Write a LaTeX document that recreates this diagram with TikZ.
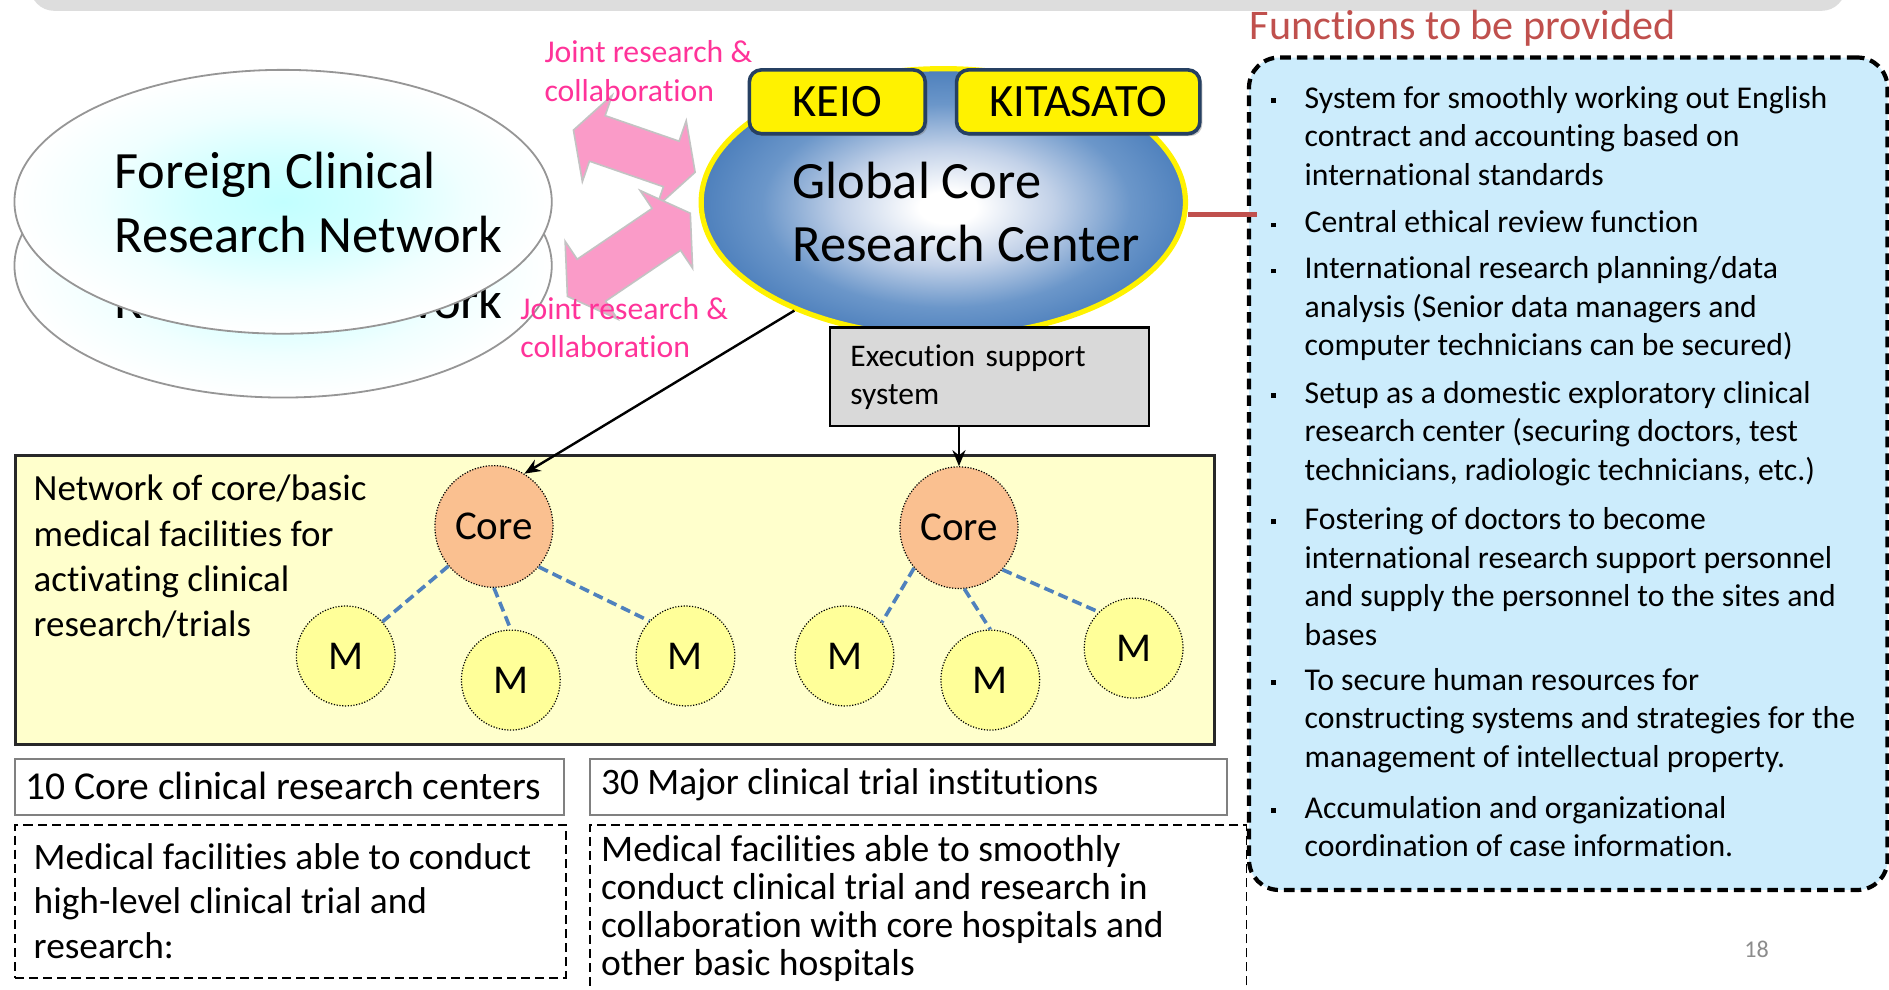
\documentclass[tikz,border=0pt]{standalone}
\usepackage{fontspec}
\setmainfont{Carlito}[Ligatures=NoCommon]
\usetikzlibrary{shapes.geometric,arrows.meta,shadows}
\definecolor{gcblue}{RGB}{79,129,189}
\definecolor{pinkfill}{RGB}{250,155,200}
\definecolor{pinkedge}{RGB}{195,195,195}
\definecolor{pinktext}{RGB}{255,51,153}
\definecolor{redline}{RGB}{192,80,77}
\definecolor{funcblue}{RGB}{204,236,252}
\definecolor{yellowbox}{RGB}{255,255,204}
\definecolor{corefill}{RGB}{250,192,144}
\definecolor{mfill}{RGB}{255,255,153}
\definecolor{dashblue}{RGB}{79,129,189}
\definecolor{navy}{RGB}{38,64,98}
\definecolor{execgray}{RGB}{217,217,217}
\definecolor{bargray}{RGB}{221,221,221}
\definecolor{fgray}{RGB}{150,150,150}
\definecolor{boxedge}{RGB}{40,40,40}
\definecolor{boxgray}{RGB}{128,128,128}
\definecolor{pagegray}{RGB}{140,140,140}
\pgfdeclareradialshading{gcshade}{\pgfpoint{0.5bp}{-1bp}}{rgb(0bp)=(1,1,1); rgb(3bp)=(1,1,1); rgb(11bp)=(0.76,0.82,0.91); rgb(19bp)=(0.42,0.59,0.79); rgb(25bp)=(0.31,0.506,0.741); rgb(50bp)=(0.31,0.506,0.741)}
\pgfdeclareradialshading{fcshade}{\pgfpoint{0bp}{0bp}}{rgb(0bp)=(0.76,1,1); rgb(8bp)=(0.82,1,1); rgb(17bp)=(0.94,1,1); rgb(25bp)=(1,1,1); rgb(50bp)=(1,1,1)}
\newcommand{\bul}{\llap{\raisebox{2.6pt}{\rule{2.4pt}{2.4pt}}\hspace{14.4pt}}}
\begin{document}
\begin{tikzpicture}[x=0.6pt,y=-0.6pt,
  txt/.style={inner sep=0pt,outer sep=0pt,align=left,anchor=west},
  bigtxt/.style={txt,font=\fontsize{26.1pt}{31.5pt}\selectfont},
  pinktxt/.style={txt,text=pinktext,font=\fontsize{15.8pt}{19.2pt}\selectfont},
  bullettxt/.style={txt,font=\fontsize{15.8pt}{19.2pt}\selectfont},
  foreign/.style={ellipse,draw=fgray,line width=0.9pt,shade,shading=fcshade,minimum width=267.6pt,minimum height=131.4pt,inner sep=0pt},
  gcore/.style={ellipse,draw=yellow,line width=2.6pt,shade,shading=gcshade,minimum width=241.2pt,minimum height=133.2pt,inner sep=0pt},
  unibox/.style={rectangle,rounded corners=6pt,fill=yellow,draw=navy,line width=1.8pt,drop shadow={shadow xshift=1.2pt,shadow yshift=-1.2pt,opacity=0.45},minimum height=31.8pt,inner sep=0pt,font=\fontsize{23.1pt}{27pt}\selectfont},
  pinkarrow/.style={fill=pinkfill,draw=pinkedge,line width=0.8pt,line join=miter},
  execbox/.style={rectangle,anchor=north west,fill=execgray,draw=black,line width=1.1pt,align=left,text width=138.6pt,inner xsep=10.2pt,inner ysep=0pt,minimum height=49.2pt,font=\fontsize{15.7pt}{19.2pt}\selectfont},
  ybox/.style={rectangle,anchor=north west,fill=yellowbox,draw=boxedge,line width=1.3pt,minimum width=597pt,minimum height=144pt,inner sep=0pt},
  corenode/.style={ellipse,fill=corefill,draw=black,line width=0.6pt,dash pattern=on 0.6pt off 0.8pt,minimum width=58.8pt,minimum height=60.6pt,inner sep=0pt,font=\fontsize{20.4pt}{24pt}\selectfont},
  mnode/.style={ellipse,fill=mfill,draw=black,line width=0.6pt,dash pattern=on 0.6pt off 0.8pt,minimum width=49.2pt,minimum height=49.8pt,inner sep=0pt,font=\fontsize{20.4pt}{24pt}\selectfont},
  mlink/.style={draw=dashblue,line width=1.8pt,dash pattern=on 5pt off 2.6pt},
  blackarrow/.style={draw=black,line width=1.2pt,-{Stealth[length=8pt,width=6.5pt]}},
  redlink/.style={draw=redline,line width=2.4pt},
  funcbox/.style={rectangle,anchor=north west,rounded corners=15pt,fill=funcblue,draw=black,line width=2.1pt,dash pattern=on 5.3pt off 3pt,minimum width=318pt,minimum height=414.6pt,inner sep=0pt},
  graybox/.style={rectangle,anchor=north west,fill=white,draw=boxgray,line width=1pt,minimum height=28.2pt,inner sep=0pt},
  dashbox/.style={rectangle,anchor=north west,draw=black,line width=0.8pt,dash pattern=on 4.5pt off 2.5pt,inner sep=0pt},
]
\useasboundingbox (0,0) rectangle (1568,821);
\clip (0,0) rectangle (1568,821);
\fill[white] (0,0) rectangle (1568,821);
% top bar
\fill[bargray,rounded corners=12pt] (25,-40) rectangle (1532,9);
% heading
\node[inner sep=0pt,anchor=base west,text=redline,font=\fontsize{21pt}{25pt}\selectfont] (fhead) at (1037,32.4) {Functions to be provided};
% right dashed region of bottom
\node[dashbox,minimum width=327pt,minimum height=96pt] (d2) at (489,684) {};
% functions box
\node[funcbox] (func) at (1035,46) {};
\node[bullettxt] (f1) at (1083,112.7) {\bul System for smoothly working out English\\contract and accounting based on\\international standards};
\node[bullettxt] (f2) at (1083,184) {\bul Central ethical review function};
\node[bullettxt] (f3) at (1083,256.3) {\bul International research planning/data\\analysis (Senior data managers and\\computer technicians can be secured)};
\node[bullettxt] (f4) at (1083,359.7) {\bul Setup as a domestic exploratory clinical\\research center (securing doctors, test\\technicians, radiologic technicians, etc.)};
\node[bullettxt] (f5) at (1083,478.5) {\bul Fostering of doctors to become\\international research support personnel\\and supply the personnel to the sites and\\bases};
\node[bullettxt] (f6) at (1083,598) {\bul To secure human resources for\\constructing systems and strategies for the\\management of intellectual property.};
\node[bullettxt] (f7) at (1083,686) {\bul Accumulation and organizational\\coordination of case information.};
% foreign network
\node[foreign] (fcrn2) at (235,220.5) {};
\node[bigtxt] (fcrn2t) at (95,223) {Foreign Clinical\\Research Network};
\node[foreign] (fcrn) at (235,167.5) {};
\node[bigtxt] (fcrnt) at (95,168) {Foreign Clinical\\Research Network};
% pink double arrows
\filldraw[pinkarrow] (476,108) -- (508.2,79.0) -- (502.3,96.0) -- (563.7,117.2) -- (569.6,100.2) -- (577,143) -- (544.8,172.0) -- (550.7,155.0) -- (489.3,133.8) -- (483.4,150.8) -- cycle;
\filldraw[pinkarrow] (471,246) -- (469.1,200.3) -- (479.1,215.2) -- (541.3,173.0) -- (531.3,158.1) -- (573,177) -- (574.9,222.7) -- (564.9,207.8) -- (502.7,250.0) -- (512.7,264.9) -- cycle;
% global core
\node[gcore] (gc) at (783,168) {};
\node[bigtxt] (gct) at (658,175.7) {Global Core\\Research Center};
\node[unibox,minimum width=87.6pt] (keio) at (695,84.5) {KEIO};
\node[unibox,minimum width=121.2pt] (kita) at (895,84.5) {KITASATO};
% labels
\node[pinktxt] (jr1) at (452,59) {Joint research \&\\collaboration};
\node[pinktxt] (jr2) at (432,272) {Joint research \&\\collaboration};
% red link
\coordinate (redend) at (1043,178);
\draw[redlink] (gc.east |- redend) -- (redend);
% execution
\node[execbox] (exec) at (688,271) {Execution support\\system};
% network box
\node[ybox] (net) at (12,377) {};
\node[txt,font=\fontsize{18.4pt}{22.5pt}\selectfont] (nett) at (28,462) {Network of core/basic\\medical facilities for\\activating clinical\\research/trials};
\node[corenode] (core1) at (410,437) {Core};
\node[corenode] (core2) at (796,438) {Core};
\node[mnode] (m1) at (287,544.5) {M};
\node[mnode] (m2) at (424,564.5) {M};
\node[mnode] (m3) at (569,544.5) {M};
\node[mnode] (m4) at (701,544.5) {M};
\node[mnode] (m5) at (822,564.5) {M};
\node[mnode] (m6) at (941,538) {M};
\draw[mlink] (core1.221) -- (m1.43);
\draw[mlink] (core1.south) -- (m2.north);
\draw[mlink] (core1.-42) -- (m3.136);
\draw[mlink] (core2.222) -- (m4.42);
\draw[mlink] (core2.-85) -- (m5.north);
\draw[mlink] (core2.-44) -- (m6.134);
% arrows
\draw[blackarrow] (gc.216.6) -- (core1.60);
\draw[blackarrow] (exec.south -| core2.north) -- (core2.north);
% bottom boxes
\node[graybox,minimum width=273pt] (b1) at (12,629) {};
\node[txt,font=\fontsize{19.7pt}{24pt}\selectfont] (b1t) at (21,652.5) {10 Core clinical research centers};
\node[graybox,minimum width=317.4pt] (b2) at (489,629) {};
\node[txt,font=\fontsize{18.6pt}{22pt}\selectfont] (b2t) at (499,651) {30 Major clinical trial institutions};
\node[dashbox,minimum width=274.2pt,minimum height=76.2pt] (d1) at (12,684) {};
\node[txt,font=\fontsize{18.6pt}{22.2pt}\selectfont] (d1t) at (28,748) {Medical facilities able to conduct\\high-level clinical trial and\\research:};
\node[txt,font=\fontsize{18.7pt}{18.9pt}\selectfont] (d2t) at (499,754) {Medical facilities able to smoothly\\conduct clinical trial and research in\\collaboration with core hospitals and\\other basic hospitals};
\node[inner sep=0pt,text=pagegray,font=\fontsize{12pt}{14pt}\selectfont] (pg) at (1458,788) {18};
\end{tikzpicture}
\end{document}
